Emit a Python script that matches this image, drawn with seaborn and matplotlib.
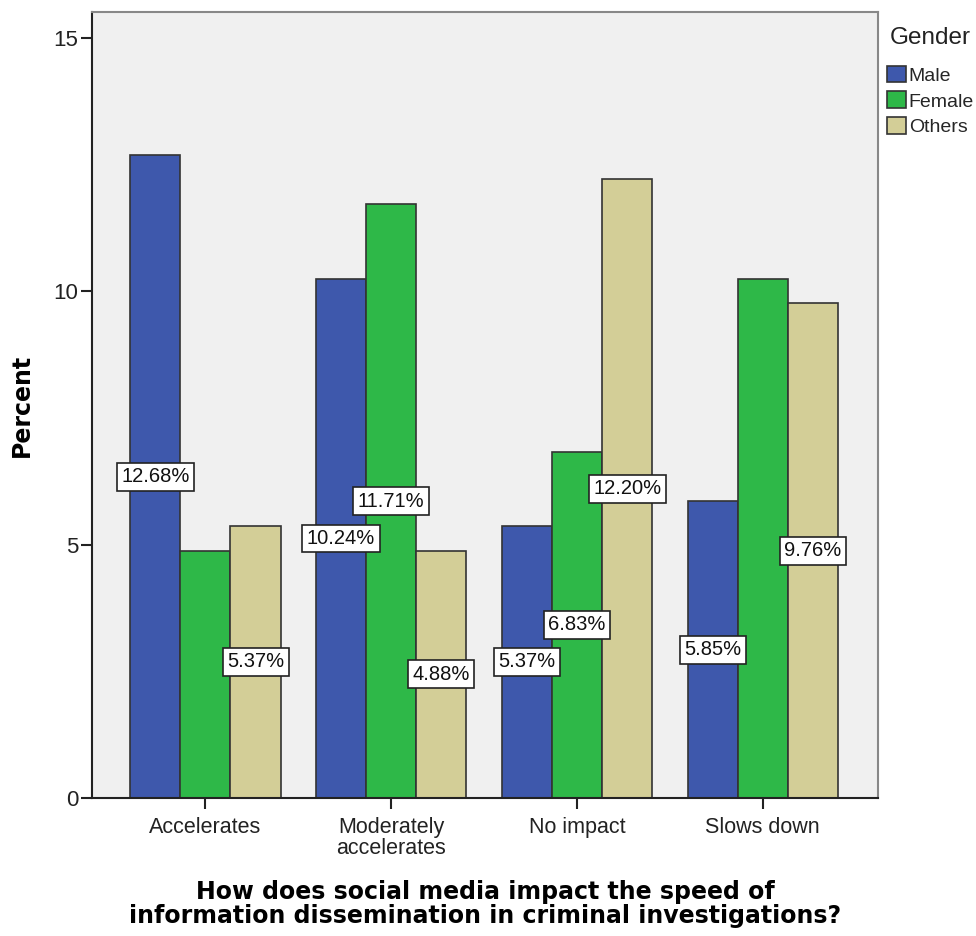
import matplotlib
matplotlib.use("Agg")
import matplotlib.pyplot as plt
import pandas as pd
import seaborn as sns

# Data
categories = ["Accelerates", "Moderately\naccelerates", "No impact", "Slows down"]
genders = ["Male", "Female", "Others"]
male = [12.68, 10.24, 5.37, 5.85]
female = [4.88, 11.71, 6.83, 10.24]
others = [5.37, 4.88, 12.20, 9.76]
# which bars carry a value label in the original
show_label = {
    "Male": [True, True, True, True],
    "Female": [False, True, True, False],
    "Others": [True, True, True, True],
}

_COLORS = {"Male": "#3e58ac", "Female": "#2eb848", "Others": "#d3ce97"}

df = pd.DataFrame({
    "category": categories * 3,
    "gender": [g for g in genders for _ in categories],
    "percent": male + female + others,
})

sns.set_style("white")
plt.rcParams["font.family"] = ["Liberation Sans", "DejaVu Sans"]

fig = plt.figure(figsize=(9.76, 9.36), dpi=100)
ax = fig.add_axes([0.0943, 0.1474, 0.8053, 0.8396])
ax.set_facecolor("#f0f0f0")

sns.barplot(
    data=df, x="category", y="percent", hue="gender",
    order=categories, hue_order=genders, palette=_COLORS,
    width=0.81, edgecolor="#333333", linewidth=1.2, saturation=1,
    ax=ax,
)

# value labels at bar mid-height
for container, g in zip(ax.containers, genders):
    for bar, show in zip(container, show_label[g]):
        if not show:
            continue
        h = bar.get_height()
        ax.text(
            bar.get_x() + bar.get_width() / 2, h / 2, f"{h:.2f}%",
            ha="center", va="center", fontsize=14.5, color="#111111",
            bbox=dict(boxstyle="square,pad=0.22", facecolor="white",
                      edgecolor="#222222", linewidth=1.2),
        )

ax.set_xlim(-0.61, 3.62)
ax.set_ylim(0, 15.5)
ax.set_yticks([0, 5, 10, 15])
ax.tick_params(axis="y", which="both", left=True, length=8, width=1.5,
               labelsize=16, colors="#222222", pad=2)
ax.tick_params(axis="x", bottom=True, length=8, width=1.5, labelsize=15.5,
               colors="#222222", pad=6)
for lbl in ax.get_xticklabels():
    lbl.set_linespacing(0.95)

ax.set_ylabel("Percent", fontsize=17, fontweight="bold", labelpad=14,
              family="DejaVu Sans", color="black")
ax.set_xlabel("How does social media impact the speed of\n"
              "information dissemination in criminal investigations?",
              fontsize=17, fontweight="bold", labelpad=15, linespacing=1.05,
              family="DejaVu Sans", color="black")

for side in ["left", "bottom"]:
    ax.spines[side].set_color("#222222")
    ax.spines[side].set_linewidth(1.5)
for side in ["top", "right"]:
    ax.spines[side].set_color("#888888")
    ax.spines[side].set_linewidth(1.5)

# legend title drawn separately to get the wider gap seen in the original
fig.text(890 / 976, 1 - 38 / 936, "Gender", fontsize=17.5, color="#222222",
         ha="left", va="center")
leg = ax.legend(
    loc="upper left", bbox_to_anchor=(1.012, 0.932),
    frameon=False, fontsize=14, handlelength=0.95, handleheight=0.95,
    handletextpad=0.15, labelspacing=0.35, borderaxespad=0, borderpad=0,
)
for patch in leg.get_patches():
    patch.set_edgecolor("#333333")
    patch.set_linewidth(1.2)

fig.savefig("out.png", dpi=100)
plt.close(fig)
